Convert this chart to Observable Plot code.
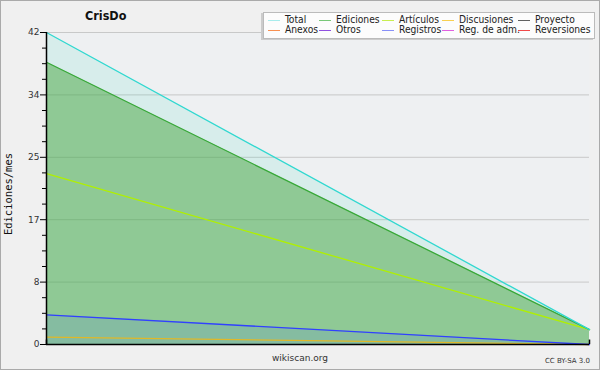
<!DOCTYPE html>
<html><head><meta charset="utf-8">
<script src="https://cdn.jsdelivr.net/npm/d3@7"></script>
<script src="https://cdn.jsdelivr.net/npm/@observablehq/plot@0.6"></script>
<style>
body{margin:0;background:#f0f0f0}
#wrap{position:relative;width:600px;height:370px;background:#f0f0f0;overflow:hidden;font-family:"DejaVu Sans Condensed","DejaVu Sans",sans-serif;color:#222}
#wrap svg{position:absolute;left:0;top:0}
#border{position:absolute;left:0;top:0;width:600px;height:370px;box-sizing:border-box;border:1px solid #aaa;pointer-events:none}
#title{position:absolute;left:85px;top:8px;font-weight:bold;font-size:12.5px;color:#111}
#ylab{position:absolute;left:8px;top:194px;transform:translate(-50%,-50%) rotate(-90deg);font-family:"DejaVu Sans Mono",monospace;font-size:10.5px;white-space:nowrap;color:#111}
#site{position:absolute;left:0;width:600px;top:353px;text-align:center;font-size:9px;color:#333;font-family:"DejaVu Sans",sans-serif}
#cc{position:absolute;right:10px;top:357px;font-size:7px;color:#333;font-family:"DejaVu Sans",sans-serif}
#legend{position:absolute;left:263px;top:12px;width:332px;height:27px;box-sizing:border-box;background:#fcfcfc;border:1px solid #bbb;box-shadow:-2px 1px 0 #ccc}
.li{position:absolute;font-size:10.2px;line-height:9px;height:9px;white-space:nowrap;color:#222}
.sw{position:absolute;height:1.3px;width:12px}
</style></head>
<body>
<div id="wrap">
  <div id="chart"></div>
  <div id="title"></div>
  <div id="ylab"></div>
  <div id="site"></div>
  <div id="cc"></div>
  <div id="legend"></div>
  <div id="border"></div>
</div>
<script>
// --- data ---
const titleText = "CrisDo";
const yLabel = "Ediciones/mes";
const periods = [0, 1];
const total = [42, 2];
const ediciones = [38, 2];
const articulos = [23, 2];
const registros = [4, 0];
const discusiones = [1, 0];
const yMajor = [0, 8.4, 16.8, 25.2, 33.6, 42];
const yMinor = [2.1, 4.2, 6.3, 10.5, 12.6, 14.7, 18.9, 21, 23.1, 27.3, 29.4, 31.5, 35.7, 37.8, 39.9];
const legendNames = ["Total","Ediciones","Artículos","Discusiones","Proyecto","Anexos","Otros","Registros","Reg. de adm.","Reversiones"];
const legendColors = ["#a8ecec","#78c878","#c8ee50","#f8d050","#606060","#f89050","#9050e0","#8890f8","#e060e0","#f04848"];
const siteText = "wikiscan.org";
const ccText = "CC BY-SA 3.0";

const rows = (vals) => periods.map((p, i) => ({x: p, y: vals[i]}));

const chart = Plot.plot({
  width: 600, height: 370,
  marginLeft: 46, marginRight: 11, marginTop: 32, marginBottom: 26,
  style: {background: "transparent", fontFamily: "DejaVu Sans, sans-serif", fontSize: "9px", color: "#333"},
  x: {domain: [0, 1], axis: null},
  y: {domain: [0, 42], axis: null},
  marks: [
    Plot.frame({fill: "#eef0f2"}),
    Plot.gridY(yMajor, {stroke: "#b8b8b8", strokeOpacity: 0.7}),
    Plot.areaY(rows(total), {x: "x", y: "y", fill: "#30dcc0", fillOpacity: 0.12}),
    Plot.areaY(rows(ediciones), {x: "x", y: "y", fill: "#48a640", fillOpacity: 0.5}),
    Plot.areaY(rows(registros), {x: "x", y: "y", fill: "#4060ff", fillOpacity: 0.12}),
    Plot.lineY(rows(discusiones), {x: "x", y: "y", stroke: "#e0b828", strokeWidth: 1.3}),
    Plot.lineY(rows(registros), {x: "x", y: "y", stroke: "#3040ff", strokeWidth: 1.3}),
    Plot.lineY(rows(articulos), {x: "x", y: "y", stroke: "#b0f000", strokeWidth: 1.3}),
    Plot.lineY(rows(ediciones), {x: "x", y: "y", stroke: "#38a838", strokeWidth: 1.3}),
    Plot.lineY(rows(total), {x: "x", y: "y", stroke: "#30d8d0", strokeWidth: 1.3}),
    Plot.axisY(yMajor, {label: null, tickSize: 6, tickPadding: 1, tickFormat: d => String(Math.round(d)), stroke: "#000", fill: "#333", fontSize: 9}),
    Plot.axisY(yMinor, {label: null, tickSize: 4, tickFormat: () => "", stroke: "#000"}),
    Plot.ruleY([0], {stroke: "#000", strokeWidth: 1.5}),
    Plot.ruleX([0], {stroke: "#000", strokeWidth: 1.5}),
    Plot.ruleX(periods, {x: d => d, y1: 0, y2: 0.6, stroke: "#000", strokeWidth: 1.5})
  ]
});
document.getElementById("chart").appendChild(chart);
document.getElementById("title").textContent = titleText;
document.getElementById("ylab").textContent = yLabel;
document.getElementById("site").textContent = siteText;
document.getElementById("cc").textContent = ccText;

const colX = [4, 55, 118, 178, 254];
const rowY = [2, 12];
const leg = document.getElementById("legend");
legendNames.forEach((name, i) => {
  const c = i % 5, r = Math.floor(i / 5);
  const sw = document.createElement("div");
  sw.className = "sw";
  sw.style.left = colX[c] + "px";
  sw.style.top = (rowY[r] + 5) + "px";
  sw.style.background = legendColors[i];
  leg.appendChild(sw);
  const t = document.createElement("div");
  t.className = "li";
  t.style.left = (colX[c] + 17) + "px";
  t.style.top = rowY[r] + "px";
  t.textContent = name;
  leg.appendChild(t);
});
</script>
</body></html>
